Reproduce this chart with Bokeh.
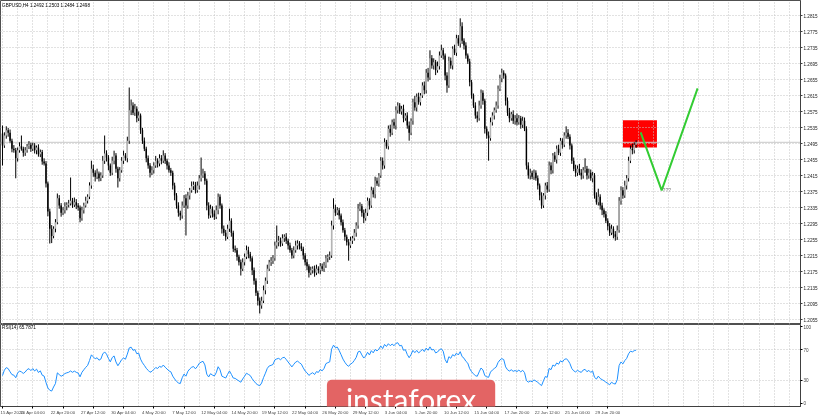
import numpy as np
from bokeh.plotting import figure
from bokeh.layouts import column
from bokeh.models import Range1d, FixedTicker, Label, Span, Grid, NumeralTickFormatter
from bokeh.embed import file_html
from bokeh.resources import INLINE
from bokeh.core.properties import value

# ---------------- data ----------------
symbol_title = "GBPUSD,H4  1.2492 1.2503 1.2484 1.2498"
rsi_title = "RSI(14) 65.7871"
first_open = 1.2520
last_open = 1.2492
closes = [
    1.2490, 1.2515, 1.2528, 1.2522, 1.2502, 1.2482, 1.2478, 1.2458, 1.2478, 1.2488, 1.2482, 1.2472, 1.2478, 1.2488, 1.2492, 1.2482,
    1.2490, 1.2478, 1.2485, 1.2468, 1.2474, 1.2450, 1.2445, 1.2395, 1.2325, 1.2282, 1.2264, 1.2282, 1.2298, 1.2358, 1.2340, 1.2322,
    1.2328, 1.2338, 1.2342, 1.2345, 1.2352, 1.2342, 1.2348, 1.2340, 1.2335, 1.2308, 1.2328, 1.2340, 1.2352, 1.2362, 1.2390, 1.2432,
    1.2422, 1.2412, 1.2420, 1.2408, 1.2415, 1.2452, 1.2470, 1.2460, 1.2440, 1.2422, 1.2452, 1.2465, 1.2432, 1.2408, 1.2428, 1.2452,
    1.2465, 1.2458, 1.2502, 1.2578, 1.2590, 1.2572, 1.2582, 1.2558, 1.2565, 1.2528, 1.2502, 1.2482, 1.2458, 1.2440, 1.2422, 1.2428,
    1.2440, 1.2452, 1.2445, 1.2458, 1.2452, 1.2465, 1.2452, 1.2440, 1.2428, 1.2422, 1.2390, 1.2365, 1.2340, 1.2322, 1.2315, 1.2340,
    1.2358, 1.2340, 1.2365, 1.2378, 1.2388, 1.2392, 1.2378, 1.2390, 1.2408, 1.2415, 1.2420, 1.2402, 1.2340, 1.2315, 1.2332, 1.2320,
    1.2312, 1.2328, 1.2362, 1.2340, 1.2282, 1.2272, 1.2262, 1.2282, 1.2302, 1.2272, 1.2232, 1.2228, 1.2212, 1.2198, 1.2182, 1.2198,
    1.2212, 1.2228, 1.2218, 1.2208, 1.2178, 1.2152, 1.2122, 1.2102, 1.2090, 1.2102, 1.2128, 1.2152, 1.2182, 1.2198, 1.2202, 1.2208,
    1.2240, 1.2248, 1.2252, 1.2245, 1.2258, 1.2262, 1.2252, 1.2240, 1.2228, 1.2215, 1.2228, 1.2240, 1.2245, 1.2238, 1.2232, 1.2215,
    1.2198, 1.2188, 1.2172, 1.2178, 1.2182, 1.2172, 1.2182, 1.2178, 1.2188, 1.2182, 1.2190, 1.2208, 1.2212, 1.2215, 1.2290, 1.2332,
    1.2322, 1.2328, 1.2315, 1.2298, 1.2278, 1.2262, 1.2248, 1.2240, 1.2252, 1.2258, 1.2272, 1.2290, 1.2332, 1.2338, 1.2322, 1.2308,
    1.2322, 1.2352, 1.2340, 1.2378, 1.2368, 1.2402, 1.2395, 1.2415, 1.2452, 1.2440, 1.2498, 1.2488, 1.2532, 1.2522, 1.2548, 1.2540,
    1.2578, 1.2590, 1.2575, 1.2582, 1.2558, 1.2565, 1.2540, 1.2522, 1.2552, 1.2598, 1.2585, 1.2612, 1.2598, 1.2615, 1.2640, 1.2628,
    1.2672, 1.2660, 1.2708, 1.2690, 1.2698, 1.2678, 1.2688, 1.2715, 1.2728, 1.2715, 1.2665, 1.2640, 1.2702, 1.2690, 1.2732, 1.2722,
    1.2758, 1.2745, 1.2788, 1.2752, 1.2740, 1.2715, 1.2700, 1.2648, 1.2615, 1.2590, 1.2565, 1.2558, 1.2590, 1.2622, 1.2602, 1.2532,
    1.2515, 1.2508, 1.2548, 1.2565, 1.2578, 1.2590, 1.2632, 1.2658, 1.2672, 1.2665, 1.2602, 1.2572, 1.2558, 1.2568, 1.2552, 1.2558,
    1.2548, 1.2558, 1.2542, 1.2552, 1.2532, 1.2440, 1.2415, 1.2422, 1.2412, 1.2422, 1.2408, 1.2390, 1.2365, 1.2340, 1.2365, 1.2390,
    1.2380, 1.2440, 1.2428, 1.2465, 1.2455, 1.2482, 1.2472, 1.2502, 1.2492, 1.2515, 1.2522, 1.2512, 1.2490, 1.2452, 1.2432, 1.2422,
    1.2432, 1.2422, 1.2415, 1.2428, 1.2432, 1.2415, 1.2422, 1.2408, 1.2415, 1.2365, 1.2348, 1.2362, 1.2340, 1.2328, 1.2318, 1.2302,
    1.2288, 1.2272, 1.2282, 1.2268, 1.2262, 1.2278, 1.2352, 1.2378, 1.2365, 1.2390, 1.2408, 1.2452, 1.2482, 1.2478, 1.2492, 1.2498,
]
wick_up_pips = [
    20, 8, 10, 6, 8, 5, 9, 6, 7, 10, 27, 5, 8, 6, 9, 5,
    7, 6, 5, 8, 6, 5, 8, 6, 5, 7, 9, 6, 8, 12, 8, 6,
    8, 10, 6, 9, 58, 7, 12, 8, 6, 5, 9, 7, 10, 6, 8, 20,
    10, 6, 12, 5, 8, 12, 45, 8, 6, 5, 10, 12, 6, 5, 8, 9,
    12, 6, 10, 57, 15, 8, 12, 6, 10, 5, 6, 8, 5, 7, 6, 10,
    8, 12, 6, 10, 8, 13, 6, 5, 8, 6, 5, 7, 6, 8, 5, 10,
    8, 10, 9, 6, 12, 8, 7, 10, 8, 45, 12, 6, 5, 8, 10, 6,
    8, 12, 8, 6, 5, 8, 7, 10, 30, 6, 5, 8, 6, 5, 7, 10,
    8, 12, 9, 6, 5, 7, 6, 5, 8, 10, 12, 8, 10, 6, 9, 8,
    10, 42, 12, 8, 10, 6, 9, 5, 7, 6, 10, 12, 8, 6, 8, 5,
    6, 8, 5, 9, 6, 8, 10, 6, 8, 7, 9, 8, 6, 10, 12, 26,
    10, 8, 6, 5, 7, 6, 5, 8, 10, 6, 9, 8, 12, 10, 6, 8,
    10, 8, 6, 9, 7, 10, 8, 6, 9, 8, 10, 6, 8, 10, 7, 9,
    10, 8, 6, 7, 10, 6, 8, 10, 6, 9, 16, 8, 10, 6, 8, 10,
    9, 12, 20, 8, 10, 6, 12, 10, 14, 6, 5, 8, 10, 8, 6, 10,
    9, 8, 20, 10, 6, 8, 5, 7, 6, 5, 8, 10, 12, 8, 6, 5,
    6, 10, 12, 8, 7, 10, 8, 9, 10, 6, 5, 8, 12, 6, 10, 8,
    12, 8, 6, 10, 8, 6, 8, 10, 5, 8, 6, 7, 5, 8, 6, 7,
    9, 10, 8, 6, 9, 8, 10, 7, 6, 8, 16, 9, 6, 5, 8, 10,
    8, 12, 9, 8, 26, 7, 10, 8, 9, 6, 8, 20, 6, 7, 5, 8,
    6, 8, 10, 6, 8, 12, 9, 10, 8, 12, 8, 10, 8, 12, 6, 5,
]
wick_dn_pips = [
    50, 6, 8, 10, 5, 9, 6, 50, 8, 6, 5, 10, 8, 6, 7, 8,
    6, 8, 10, 6, 7, 8, 5, 10, 12, 37, 18, 6, 9, 5, 8, 10,
    6, 8, 10, 7, 5, 8, 6, 9, 8, 10, 6, 8, 5, 7, 6, 8,
    10, 12, 6, 8, 7, 6, 8, 10, 12, 8, 6, 9, 10, 23, 8, 6,
    8, 6, 10, 8, 12, 6, 8, 10, 7, 9, 8, 6, 10, 8, 12, 6,
    8, 6, 10, 7, 9, 6, 8, 10, 6, 8, 10, 12, 8, 10, 12, 8,
    6, 75, 8, 10, 6, 9, 8, 6, 10, 8, 6, 10, 12, 8, 6, 10,
    8, 6, 10, 8, 12, 8, 10, 6, 8, 10, 8, 6, 10, 8, 17, 6,
    8, 6, 10, 8, 12, 10, 8, 12, 20, 8, 6, 10, 8, 6, 9, 8,
    6, 8, 10, 8, 6, 9, 8, 10, 6, 8, 7, 6, 10, 8, 6, 10,
    8, 10, 12, 6, 8, 10, 6, 8, 10, 6, 8, 6, 10, 8, 6, 10,
    8, 6, 10, 8, 6, 10, 8, 38, 6, 8, 6, 10, 8, 6, 10, 12,
    6, 8, 10, 6, 8, 10, 6, 8, 6, 10, 8, 6, 8, 10, 6, 8,
    10, 8, 6, 8, 10, 6, 8, 20, 6, 10, 8, 10, 6, 8, 6, 10,
    8, 10, 6, 8, 10, 12, 6, 8, 6, 10, 12, 18, 6, 8, 10, 6,
    8, 6, 10, 8, 10, 8, 6, 10, 8, 6, 8, 10, 6, 8, 10, 12,
    8, 56, 6, 8, 10, 6, 8, 6, 10, 8, 12, 8, 10, 6, 8, 10,
    8, 6, 10, 8, 6, 10, 8, 10, 6, 8, 6, 10, 12, 8, 6, 10,
    8, 6, 10, 8, 6, 10, 6, 8, 10, 6, 8, 6, 10, 8, 6, 10,
    8, 6, 10, 8, 6, 10, 8, 6, 10, 8, 6, 8, 10, 12, 8, 6,
    10, 8, 6, 10, 10, 8, 6, 10, 8, 6, 10, 8, 6, 10, 8, 8,
]
last_price = 1.2498
price_ticks = [1.2055, 1.2095, 1.2135, 1.2175, 1.2215, 1.2255, 1.2295, 1.2335, 1.2375, 1.2415,
               1.2455, 1.2495, 1.2535, 1.2575, 1.2615, 1.2655, 1.2695, 1.2735, 1.2775, 1.2815]
date_tick_bars = [0, 16, 32, 48, 64, 80, 96, 112, 128, 144, 160, 176, 192, 208, 224, 240, 256, 272, 288, 304, 320]
date_tick_labels = ["15 Apr 2020", "20 Apr 04:00", "22 Apr 20:00", "27 Apr 12:00", "30 Apr 04:00",
                    "4 May 20:00", "7 May 12:00", "12 May 04:00", "14 May 20:00", "19 May 12:00",
                    "22 May 04:00", "26 May 20:00", "29 May 12:00", "3 Jun 04:00", "5 Jun 20:00",
                    "10 Jun 12:00", "15 Jun 04:00", "17 Jun 20:00", "22 Jun 12:00", "25 Jun 04:00",
                    "29 Jun 20:00"]
rsi_period = 14
rsi_ticks = [0, 30, 70, 100]
rsi_levels = [30, 70]
zone_bars = [328, 346]
zone_prices = [1.2485, 1.2553]
path_bars = [337.4, 348.5, 367.5]
path_prices = [1.2523, 1.2378, 1.2633]
mark_bar = 349
mark_price = 1.2378
mark_text = "???"
logo_text = "instaforex"

# ---------------- derived series ----------------
N = len(closes)
xb = np.arange(N)
c = np.array(closes)
o = np.concatenate([[first_open], c[:-1]])
o[-1] = last_open
hi = np.maximum(o, c) + np.array(wick_up_pips) / 10000.0
lo = np.minimum(o, c) - np.array(wick_dn_pips) / 10000.0
bull = c >= o
body_top = np.maximum(o, c)
body_bot = np.minimum(o, c)
body_bot = np.where(body_top - body_bot < 0.0002, body_top - 0.0002, body_bot)

d = np.diff(c, prepend=first_open)
gain = np.clip(d, 0, None)
loss = np.clip(-d, 0, None)
ag = gain[:rsi_period].mean()
al = loss[:rsi_period].mean()
rsi = []
for i in range(N):
    ag = (ag * (rsi_period - 1) + gain[i]) / rsi_period
    al = (al * (rsi_period - 1) + loss[i]) / rsi_period
    rsi.append(100.0 if al == 0 else 100.0 - 100.0 / (1.0 + ag / al))

# ---------------- styling ----------------
FONT = "Liberation Sans"
GRID = "#c4c4c4"
X_RANGE = Range1d(-1.056, 421.9)
grid_bars = list(range(0, 424, 8))

p = figure(width=820, height=324, x_range=X_RANGE, y_range=Range1d(1.20425, 1.28525),
           output_backend="svg", toolbar_location=None, x_axis_location=None,
           y_axis_location="right", min_border_left=0, min_border_right=19,
           min_border_top=0, min_border_bottom=0)
p.background_fill_color = "white"
p.border_fill_color = "white"
p.outline_line_color = "#505050"
p.grid.visible = False
p.add_layout(Grid(dimension=0, ticker=FixedTicker(ticks=grid_bars), grid_line_color=GRID,
                  grid_line_dash="1 2"))
p.add_layout(Grid(dimension=1, ticker=FixedTicker(ticks=price_ticks), grid_line_color=GRID,
                  grid_line_dash="1 2"))
ax = p.yaxis[0]
ax.ticker = FixedTicker(ticks=price_ticks)
ax.formatter = NumeralTickFormatter(format="0.0000")
ax.major_label_text_font = FONT
ax.major_label_text_font_size = "4.6px"
ax.major_label_text_color = "#202020"
ax.major_label_standoff = 1
ax.major_tick_out = 2
ax.major_tick_in = 0
ax.minor_tick_line_color = None
ax.axis_line_color = "#404040"
ax.major_tick_line_color = "#404040"

p.quad(left=[zone_bars[0]], right=[zone_bars[1]], bottom=[zone_prices[0]], top=[zone_prices[1]],
       fill_color="#ff0000", line_color=None, level="image")
p.add_layout(Span(location=last_price, dimension="width", line_color="#c8c8c8", line_width=1,
                  level="underlay"))
p.segment(x0=xb, y0=lo, x1=xb, y1=hi, line_color="#000000", line_width=1)
p.vbar(x=xb[bull], width=0.75, top=body_top[bull], bottom=body_bot[bull],
       fill_color="#b4b4b4", line_color=None)
p.vbar(x=xb[~bull], width=0.75, top=body_top[~bull], bottom=body_bot[~bull],
       fill_color="#000000", line_color=None)
p.line(path_bars, path_prices, line_color="#33cc33", line_width=2)
p.text(x=[mark_bar], y=[mark_price], text=[mark_text], text_font=value(FONT),
       text_font_size="5px", text_color="#808080", text_baseline="middle", text_align="left")
p.add_layout(Label(x=-0.2, y=1.2847, text=symbol_title, text_font=FONT, text_font_size="4.6px",
                   text_color="#000000", text_baseline="top", text_align="left"))
p.add_layout(Label(x=421.9, y=last_price, x_offset=1, text=f"{last_price:.4f}", text_font=FONT,
                   text_font_size="4.6px", text_color="white", background_fill_color="black",
                   text_baseline="middle", text_align="left", padding=1))

r = figure(width=820, height=93, x_range=X_RANGE, y_range=Range1d(-4.55, 103.25),
           output_backend="svg", toolbar_location=None, x_axis_location="below",
           y_axis_location="right", min_border_left=0, min_border_right=19,
           min_border_top=0, min_border_bottom=10)
r.background_fill_color = "white"
r.border_fill_color = "white"
r.outline_line_color = "#505050"
r.grid.visible = False
r.add_layout(Grid(dimension=0, ticker=FixedTicker(ticks=grid_bars), grid_line_color=GRID,
                  grid_line_dash="1 2"))
r.add_layout(Grid(dimension=1, ticker=FixedTicker(ticks=rsi_levels), grid_line_color=GRID,
                  grid_line_dash="1 2"))
ry = r.yaxis[0]
ry.ticker = FixedTicker(ticks=rsi_ticks)
ry.major_label_text_font = FONT
ry.major_label_text_font_size = "4.6px"
ry.major_label_standoff = 1
ry.major_tick_out = 2
ry.major_tick_in = 0
ry.minor_tick_line_color = None
ry.axis_line_color = "#404040"
rx = r.xaxis[0]
rx.ticker = FixedTicker(ticks=date_tick_bars)
rx.major_label_overrides = {b: t for b, t in zip(date_tick_bars, date_tick_labels)}
rx.major_label_text_font = FONT
rx.major_label_text_font_size = "4.3px"
rx.major_label_text_align = "left"
rx.major_label_standoff = 1
rx.major_tick_out = 2
rx.major_tick_in = 0
rx.minor_tick_line_color = None
rx.axis_line_color = "#404040"

r.line(xb, rsi, line_color="#1e90ff", line_width=1)
r.add_layout(Label(x=-0.2, y=102.5, text=rsi_title, text_font=FONT, text_font_size="4.6px",
                   text_color="#000000", text_baseline="top", text_align="left"))
r.add_layout(Label(x=216, y=30.5, text=logo_text, text_font="Lato", text_font_size="30px",
                   text_color="white", background_fill_color="#e36464", text_baseline="top",
                   text_align="center",
                   padding=dict(left=19, right=19, top=1, bottom=0),
                   border_radius=dict(top_left=5, top_right=5, bottom_right=0, bottom_left=0)))

layout = column(p, r, spacing=0, styles={"position": "fixed", "left": "0px", "top": "0px"})
open("out.html", "w").write(file_html(layout, INLINE))
